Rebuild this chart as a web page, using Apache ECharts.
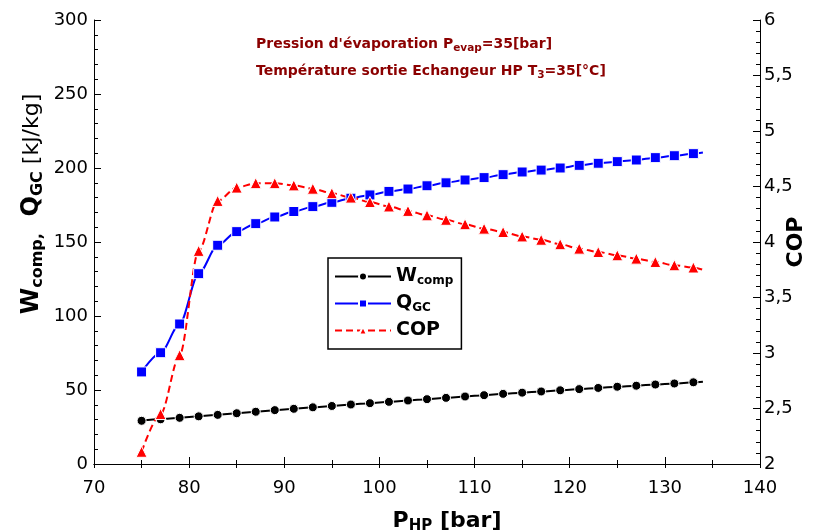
<!DOCTYPE html>
<html>
<head>
<meta charset="utf-8">
<script src="https://cdn.jsdelivr.net/npm/echarts@6/dist/echarts.min.js"></script>
<style>html,body{margin:0;padding:0;background:#fff}#c{width:819px;height:532px}</style>
</head>
<body>
<div id="c"></div>
<script>
// ---- data ----
const pressures = [75,77,79,81,83,85,87,89,91,93,95,97,99,101,103,105,107,109,111,113,115,117,119,121,123,125,127,129,131,133];
const wComp = [29.2,30.2,31.2,32.2,33.2,34.3,35.3,36.4,37.3,38.3,39.2,40.2,41.1,42.0,42.9,43.8,44.7,45.6,46.5,47.4,48.2,49.0,49.8,50.6,51.4,52.2,52.9,53.7,54.4,55.2];
const qGC = [62.2,75.2,94.6,128.6,147.8,157.0,162.4,166.9,170.6,173.9,176.8,179.6,181.8,184.2,185.8,188.0,190.0,191.9,193.5,195.5,197.3,198.6,200.0,201.8,203.2,204.3,205.4,207.0,208.3,209.7];
const cop = [2.11,2.45,2.98,3.92,4.37,4.49,4.53,4.53,4.51,4.48,4.44,4.40,4.36,4.32,4.28,4.24,4.20,4.16,4.12,4.09,4.05,4.02,3.98,3.94,3.91,3.88,3.85,3.82,3.79,3.77];
// curve end (line continues slightly past last marker)
const endP = 134;
const wEnd = 55.6, qEnd = 210.4, copEnd = 3.75;
const xTicks = {min:70, max:140, step:10};
const yLeftTicks = {min:0, max:300, step:50};
const yRightTicks = {min:2, max:6, step:0.5};

const FONT = "'DejaVu Sans', sans-serif";
function build(vals, endV){
  const d = pressures.map((p,i)=>[p, vals[i]]);
  d.push({value:[endP, endV], symbol:'none'});
  return d;
}
const chart = echarts.init(document.getElementById('c'), null, {renderer:'canvas'});
const axisCommon = {
  axisLine:{show:true, onZero:false, lineStyle:{color:'#000', width:1}},
  axisTick:{show:true, inside:true, length:7, lineStyle:{color:'#000'}},
  minorTick:{show:true, length:4, lineStyle:{color:'#000'}},
  splitLine:{show:false},
  axisLabel:{color:'#000', fontSize:18, fontFamily:FONT}
};
const legendRich = {
  b:{fontSize:19, fontWeight:'bold', fontFamily:FONT, color:'#000'},
  s:{fontSize:12, fontWeight:'bold', fontFamily:FONT, color:'#000', padding:[9,0,0,0]}
};
chart.setOption({
  animation:false,
  backgroundColor:'#fff',
  grid:{left:94, right:59, top:20, bottom:68, outerBoundsMode:'none', containLabel:false},
  xAxis:[
    Object.assign({}, axisCommon, {
      type:'value', min:xTicks.min, max:xTicks.max, interval:xTicks.step,
      minorTick:{show:true, splitNumber:2, length:4, lineStyle:{color:'#000'}},
      axisLabel:{color:'#000', fontSize:18, fontFamily:FONT, margin:15},
      name:'{b|P}{s|HP}{b| [bar]}', nameLocation:'middle', nameGap:44,
      nameTextStyle:{padding:[0,0,0,40], rich:{
        b:{fontSize:22, fontWeight:'bold', fontFamily:FONT, color:'#000'},
        s:{fontSize:15, fontWeight:'bold', fontFamily:FONT, color:'#000', padding:[11,0,0,0]}
      }}
    }),
    {
      type:'value', position:'top', min:xTicks.min, max:xTicks.max, interval:5,
      axisLine:{show:true, lineStyle:{color:'#000', width:1}},
      axisTick:{show:true, inside:true, length:4, lineStyle:{color:'#000'}},
      axisLabel:{show:false}, splitLine:{show:false}
    }
  ],
  yAxis:[
    Object.assign({}, axisCommon, {
      type:'value', min:yLeftTicks.min, max:yLeftTicks.max, interval:yLeftTicks.step,
      minorTick:{show:true, splitNumber:5, length:4, lineStyle:{color:'#000'}},
      axisLabel:{color:'#000', fontSize:18, fontFamily:FONT, margin:6}
    }),
    Object.assign({}, axisCommon, {
      type:'value', position:'right', min:yRightTicks.min, max:yRightTicks.max, interval:yRightTicks.step,
      minorTick:{show:true, splitNumber:5, length:4, lineStyle:{color:'#000'}},
      axisLabel:{color:'#000', fontSize:18, fontFamily:FONT, margin:4,
        formatter:v=>String(v).replace('.', ',')},
      name:'COP', nameLocation:'middle', nameGap:25, nameRotate:90, nameMoveOverlap:false,
      nameTextStyle:{fontSize:22, fontWeight:'bold', fontFamily:FONT, color:'#000'}
    })
  ],
  legend:{
    orient:'vertical', left:328, top:258,
    backgroundColor:'#fff', borderColor:'#000', borderWidth:1.5, borderRadius:0,
    padding:[9,8,9,6], itemGap:7, itemWidth:56, itemHeight:10,
    data:['W','Q','COP'],
    formatter:function(n){
      if(n==='W') return '{b|W}{s|comp}';
      if(n==='Q') return '{b|Q}{s|GC}';
      return '{b|COP}';
    },
    textStyle:{rich:legendRich}
  },
  graphic:[
    {type:'text', left:256, top:37, style:{
      text:"{n|Pression d'évaporation P}{s|evap}{n|=35[bar]}",
      rich:{
        n:{fontSize:14, fontWeight:'bold', fontFamily:FONT, fill:'#8B0000'},
        s:{fontSize:10.5, fontWeight:'bold', fontFamily:FONT, fill:'#8B0000', padding:[8,0,0,0]}
      }}},
    {type:'text', left:256, top:64, style:{
      text:"{n|Température sortie Echangeur HP T}{s|3}{n|=35[°C]}",
      rich:{
        n:{fontSize:14, fontWeight:'bold', fontFamily:FONT, fill:'#8B0000'},
        s:{fontSize:10.5, fontWeight:'bold', fontFamily:FONT, fill:'#8B0000', padding:[8,0,0,0]}
      }}},
    {type:'text', x:32, y:204, rotation:Math.PI/2, style:{
      text:"{b|W}{s|comp,}{b|  Q}{s|GC}{n| [kJ/kg]}",
      align:'center', verticalAlign:'middle',
      rich:{
        b:{fontSize:24, fontWeight:'bold', fontFamily:FONT, fill:'#000'},
        s:{fontSize:16, fontWeight:'bold', fontFamily:FONT, fill:'#000', padding:[11,0,0,0]},
        n:{fontSize:22, fontFamily:FONT, fill:'#000'}
      }}}
  ],
  series:[
    {name:'W', type:'line', xAxisIndex:0, yAxisIndex:0, data:build(wComp,wEnd), smooth:0.3, smoothMonotone:'x',
      symbol:'circle', symbolSize:9, color:'#000',
      lineStyle:{color:'#000', width:2},
      itemStyle:{color:'#000', borderColor:'#fff', borderWidth:1}},
    {name:'Q', type:'line', xAxisIndex:0, yAxisIndex:0, data:build(qGC,qEnd), smooth:0.3, smoothMonotone:'x',
      symbol:'rect', symbolSize:10, color:'#0000ff',
      lineStyle:{color:'#0000ff', width:2},
      itemStyle:{color:'#0000ff', borderColor:'#fff', borderWidth:1}},
    {name:'COP', type:'line', xAxisIndex:0, yAxisIndex:1, data:build(cop,copEnd), smooth:0.3, smoothMonotone:'x',
      symbol:'triangle', symbolSize:11, color:'#ff0000',
      lineStyle:{color:'#ff0000', width:2, type:[7,4]},
      itemStyle:{color:'#ff0000', borderColor:'#fff', borderWidth:1}}
  ]
});
</script>
</body>
</html>
